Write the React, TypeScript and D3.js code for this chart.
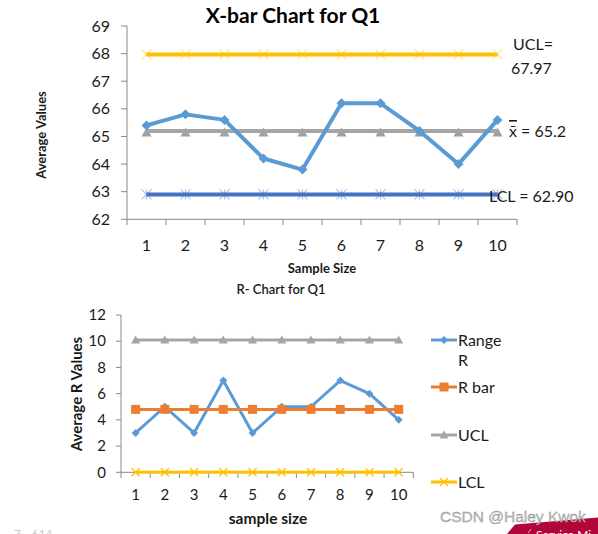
import React from "react";
import * as d3 from "d3";

const samples = [1, 2, 3, 4, 5, 6, 7, 8, 9, 10];
const xbarValues = [65.4, 65.8, 65.6, 64.2, 63.8, 66.2, 66.2, 65.2, 64.0, 65.6];
const xbarCenter = 65.2;
const xbarUCL = 67.97;
const xbarLCL = 62.9;
const xbarTicks = [62, 63, 64, 65, 66, 67, 68, 69];

const rangeValues = [3, 5, 3, 7, 3, 5, 5, 7, 6, 4];
const rBar = 4.8;
const rUCL = 10.1;
const rLCL = 0;
const rTicks = [0, 2, 4, 6, 8, 10, 12];

const FONT = "Lato, 'Open Sans', sans-serif";
const C_BLUE = "#5B9BD5";
const C_DBLUE = "#4472C4";
const C_GRAY = "#A5A5A5";
const C_YEL = "#FFC000";
const C_ORANGE = "#ED7D31";
const AXIS = "#898989";
const TXT = "#1a1a1a";

function diamond(cx: number, cy: number, r: number) {
  return `M${cx},${cy - r}L${cx + r},${cy}L${cx},${cy + r}L${cx - r},${cy}Z`;
}
function tri(cx: number, cy: number, r: number) {
  return `M${cx},${cy - r}L${cx + r},${cy + r * 0.8}L${cx - r},${cy + r * 0.8}Z`;
}
function cross(cx: number, cy: number, r: number) {
  return `M${cx - r},${cy - r}L${cx + r},${cy + r}M${cx - r},${cy + r}L${cx + r},${cy - r}`;
}
function star(cx: number, cy: number, r: number) {
  return cross(cx, cy, r) + `M${cx},${cy - r}L${cx},${cy + r}`;
}

function XBarChart() {
  const x = d3.scaleBand<number>().domain(samples).range([127, 517]);
  const y = d3.scaleLinear().domain([62, 69]).range([219.3, 26]);
  const cx = (d: number) => (x(d) as number) + x.bandwidth() / 2;
  const line = d3
    .line<number>()
    .x((_, i) => cx(samples[i]))
    .y((v) => y(v));
  const x0 = cx(1);
  const x1 = cx(10);
  return (
    <g>
      <text x={293} y={23} textAnchor="middle" fontFamily={FONT} fontWeight="bold" fontSize={21} fill="#000">
        X-bar Chart for Q1
      </text>
      {/* axes */}
      <line x1={127} x2={127} y1={26} y2={219.3} stroke={AXIS} strokeWidth={1} />
      <line x1={127} x2={517} y1={219.3} y2={219.3} stroke={AXIS} strokeWidth={1} />
      {xbarTicks.map((t) => (
        <g key={t}>
          <line x1={121} x2={127} y1={y(t)} y2={y(t)} stroke={AXIS} />
          <text x={110} y={y(t)} dy="0.35em" textAnchor="end" fontFamily={FONT} fontSize={16} fill={TXT}>
            {t}
          </text>
        </g>
      ))}
      {d3.range(11).map((i) => {
        const px = 127 + i * x.bandwidth();
        return <line key={i} x1={px} x2={px} y1={219.3} y2={225} stroke={AXIS} />;
      })}
      {samples.map((s) => (
        <text key={s} x={cx(s)} y={245} dy="0.35em" textAnchor="middle" fontFamily={FONT} fontSize={16} fill={TXT}>
          {s}
        </text>
      ))}
      <text x={322} y={273} textAnchor="middle" fontFamily={FONT} fontWeight="bold" fontSize={13} fill={TXT}>
        Sample Size
      </text>
      <text
        transform={`translate(46,135) rotate(-90)`}
        textAnchor="middle"
        fontFamily={FONT}
        fontWeight="bold"
        fontSize={13}
        fill={TXT}
      >
        Average Values
      </text>
      {/* UCL */}
      {samples.map((s) => (
        <path key={"u" + s} d={cross(cx(s), y(xbarUCL), 5)} stroke="#FFE08A" strokeWidth={1.2} fill="none" />
      ))}
      <line x1={x0} x2={x1} y1={y(xbarUCL)} y2={y(xbarUCL)} stroke={C_YEL} strokeWidth={4} />
      {/* LCL */}
      {samples.map((s) => (
        <path key={"l" + s} d={star(cx(s), y(xbarLCL), 5)} stroke="#A9BEEA" strokeWidth={1.2} fill="none" />
      ))}
      <line x1={x0} x2={x1} y1={y(xbarLCL)} y2={y(xbarLCL)} stroke={C_DBLUE} strokeWidth={4} />
      {/* center */}
      {samples.map((s) => (
        <path key={"c" + s} d={tri(cx(s), y(xbarCenter) + 1.5, 5)} fill="#8f8f8f" opacity={0.85} />
      ))}
      <line x1={x0} x2={x1} y1={y(xbarCenter)} y2={y(xbarCenter)} stroke={C_GRAY} strokeWidth={4} />
      {/* xbar series */}
      <path d={line(xbarValues) || ""} fill="none" stroke={C_BLUE} strokeWidth={4} strokeLinejoin="round" />
      {xbarValues.map((v, i) => (
        <path key={"x" + i} d={diamond(cx(samples[i]), y(v), 5)} fill={C_BLUE} />
      ))}
      {/* labels */}
      <text x={513} y={50} fontFamily={FONT} fontSize={16} fill={TXT}>UCL=</text>
      <text x={511} y={74} fontFamily={FONT} fontSize={16} fill={TXT}>67.97</text>
      <text x={509} y={137} fontFamily={FONT} fontSize={16} fill={TXT}>
        <tspan textDecoration="overline">x̄</tspan> = 65.2
      </text>
      <text x={489} y={202} fontFamily={FONT} fontSize={16} fill={TXT}>LCL = 62.90</text>
    </g>
  );
}

function RChart() {
  const x = d3.scaleBand<number>().domain(samples).range([121, 413.3]);
  const y = d3.scaleLinear().domain([0, 12]).range([472.3, 315]);
  const cx = (d: number) => (x(d) as number) + x.bandwidth() / 2;
  const line = d3
    .line<number>()
    .x((_, i) => cx(samples[i]))
    .y((v) => y(v));
  const x0 = cx(1);
  const x1 = cx(10);
  const legend = [
    { label: ["Range", "R"], color: C_BLUE, kind: "diamond", y: 340 },
    { label: ["R bar"], color: C_ORANGE, kind: "square", y: 387 },
    { label: ["UCL"], color: C_GRAY, kind: "tri", y: 435 },
    { label: ["LCL"], color: C_YEL, kind: "cross", y: 482 },
  ];
  const marker = (kind: string, px: number, py: number, color: string, key: string) => {
    if (kind === "diamond") return <path key={key} d={diamond(px, py, 4)} fill={color} />;
    if (kind === "square") return <rect key={key} x={px - 4.5} y={py - 4.5} width={9} height={9} fill={color} />;
    if (kind === "tri") return <path key={key} d={tri(px, py, 4.5)} fill={color} />;
    return <path key={key} d={cross(px, py, 4)} stroke={color} strokeWidth={1.3} fill="none" />;
  };
  return (
    <g>
      <text x={281} y={294} textAnchor="middle" fontFamily={FONT} fontWeight="600" fontSize={13} fill={TXT}>
        R- Chart for Q1
      </text>
      <line x1={121} x2={121} y1={315} y2={472.3} stroke={AXIS} />
      <line x1={121} x2={413.3} y1={472.3} y2={472.3} stroke={AXIS} />
      {rTicks.map((t) => (
        <g key={t}>
          <line x1={116} x2={121} y1={y(t)} y2={y(t)} stroke={AXIS} />
          <text x={106} y={y(t)} dy="0.35em" textAnchor="end" fontFamily={FONT} fontSize={15} fill={TXT}>
            {t}
          </text>
        </g>
      ))}
      {d3.range(11).map((i) => {
        const px = 121 + i * x.bandwidth();
        return <line key={i} x1={px} x2={px} y1={472.3} y2={478} stroke={AXIS} />;
      })}
      {samples.map((s) => (
        <text key={s} x={cx(s)} y={495} dy="0.35em" textAnchor="middle" fontFamily={FONT} fontSize={15} fill={TXT}>
          {s}
        </text>
      ))}
      <text x={268} y={524} textAnchor="middle" fontFamily={FONT} fontWeight="bold" fontSize={15.5} fill={TXT}>
        sample size
      </text>
      <text
        transform={`translate(82,394) rotate(-90)`}
        textAnchor="middle"
        fontFamily={FONT}
        fontWeight="bold"
        fontSize={15}
        fill={TXT}
      >
        Average R Values
      </text>
      {/* UCL */}
      <line x1={x0} x2={x1} y1={y(rUCL)} y2={y(rUCL)} stroke={C_GRAY} strokeWidth={3} />
      {samples.map((s) => marker("tri", cx(s), y(rUCL), C_GRAY, "u" + s))}
      {/* LCL */}
      <line x1={x0} x2={x1} y1={y(rLCL)} y2={y(rLCL)} stroke={C_YEL} strokeWidth={3} />
      {samples.map((s) => marker("cross", cx(s), y(rLCL), C_YEL, "l" + s))}
      {/* Range */}
      <path d={line(rangeValues) || ""} fill="none" stroke={C_BLUE} strokeWidth={3} strokeLinejoin="round" />
      {rangeValues.map((v, i) => marker("diamond", cx(samples[i]), y(v), C_BLUE, "r" + i))}
      {/* R bar */}
      <line x1={x0} x2={x1} y1={y(rBar)} y2={y(rBar)} stroke={C_ORANGE} strokeWidth={3} />
      {samples.map((s) => marker("square", cx(s), y(rBar), C_ORANGE, "b" + s))}
      {/* legend */}
      {legend.map((l) => (
        <g key={l.label[0]}>
          <line x1={431} x2={457} y1={l.y} y2={l.y} stroke={l.color} strokeWidth={3} />
          {marker(l.kind, 444, l.y, l.color, "m")}
          <text x={458} y={l.y} dy="0.35em" fontFamily={FONT} fontSize={16} fill={TXT}>
            {l.label[0]}
          </text>
          {l.label[1] && (
            <text x={458} y={l.y + 20} dy="0.35em" fontFamily={FONT} fontSize={16} fill={TXT}>
              {l.label[1]}
            </text>
          )}
        </g>
      ))}
    </g>
  );
}

export default function App() {
  return (
    <svg
      width={598}
      height={534}
      style={{ position: "absolute", left: 0, top: 0, background: "#fff" }}
    >
      <rect width={598} height={534} fill="#fff" />
      <XBarChart />
      <RChart />
      <text x={14} y={538} fontFamily={FONT} fontSize={12} fill="#c8c8c8">7 - 614</text>
      <path d="M507,534L515,524.5L598,517.5L598,534Z" fill="#B0063A" />
      <line x1={528} y1={533} x2={531} y2={529} stroke="#ddd" strokeWidth={0.8} />
      <text x={536} y={539} fontFamily={FONT} fontSize={12} fill="#fff">Service Mi</text>
      <text
        x={440}
        y={522}
        fontFamily="'Liberation Sans', Arial, sans-serif"
        fontSize={15.5}
        fill="#bdbdbd"
        stroke="#8a8a8a"
        strokeWidth={0.3}
      >
        CSDN @Haley Kwok
      </text>
    </svg>
  );
}
